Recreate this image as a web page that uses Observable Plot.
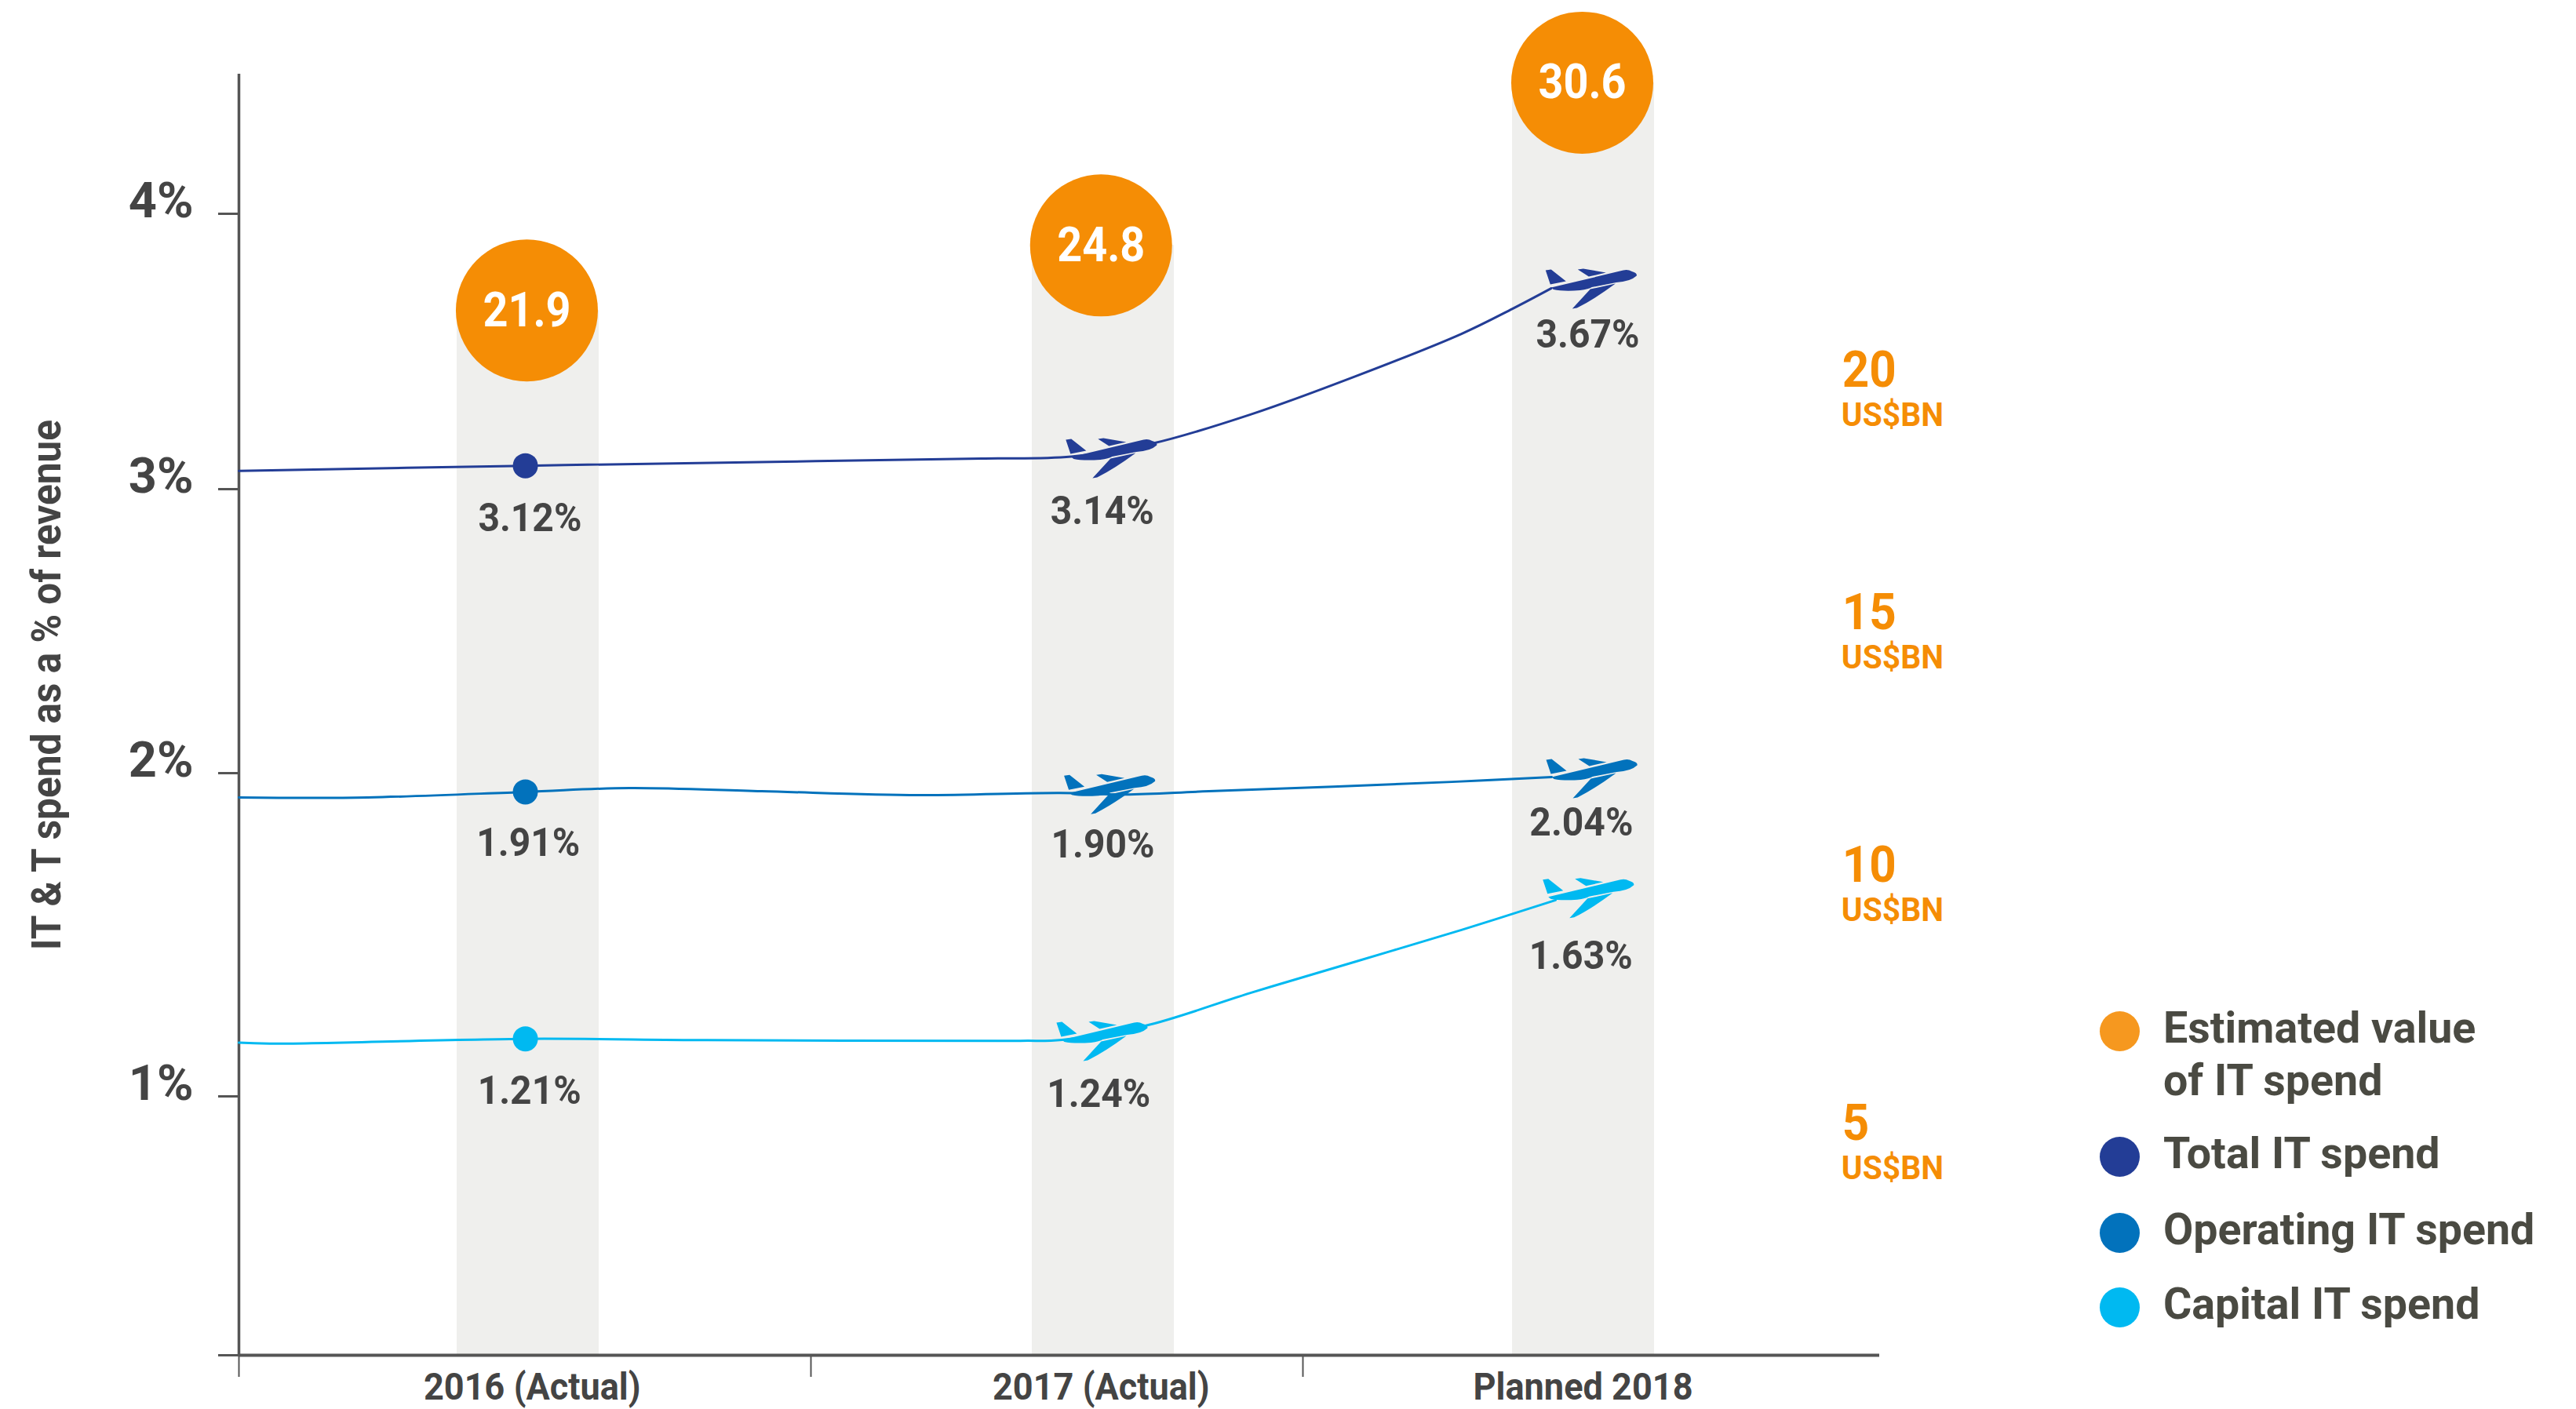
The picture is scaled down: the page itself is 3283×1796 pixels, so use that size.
<!DOCTYPE html>
<html>
<head>
<meta charset="utf-8">
<script src="https://cdn.jsdelivr.net/npm/d3@7"></script>
<script src="https://cdn.jsdelivr.net/npm/@observablehq/plot@0.6"></script>
<style>
  html, body { margin: 0; padding: 0; background: #fff; }
  #chart { position: relative; width: 3283px; height: 1796px; overflow: hidden; }
  #chart svg { display: block; }
  #legend { position: absolute; left: 2676px; top: 0; font: 700 55px/67px Roboto, sans-serif; color: #4a4a42; }
  #legend .row { position: absolute; left: 0; white-space: nowrap; }
  #legend .row:nth-child(1) { top: 1277px; }
  #legend .row:nth-child(2) { top: 1437px; }
  #legend .row:nth-child(3) { top: 1534px; }
  #legend .row:nth-child(4) { top: 1629px; }
  #legend .swatch { position: absolute; left: 0; width: 51px; height: 51px; border-radius: 50%; top: 12px; }
  #legend .label { position: absolute; left: 81px; top: 0; transform: scaleX(1.01); transform-origin: left top; }
</style>
</head>
<body>
<div id="chart"></div>
<script>
// ---- data ----
const years = [2016, 2017, 2018];
const categories = ["2016 (Actual)", "2017 (Actual)", "Planned 2018"];
const categoryYears = [2016.008, 2016.997, 2018];
const spendValues = ["21.9", "24.8", "30.6"];
const bubbleYears = [2015.9986, 2016.997, 2017.9986];
const bubbleLevels = [3.649, 3.885, 4.476];

const totalYears = [2015.5, 2015.996, 2016.454, 2016.792, 2016.946, 2017.122, 2017.369, 2017.594, 2017.783, 2017.874, 2017.943];
const totalLine = [3.066, 3.085, 3.1, 3.111, 3.118, 3.165, 3.271, 3.41, 3.564, 3.655, 3.729];
const operatingYears = [2015.5, 2015.723, 2015.996, 2016.18, 2016.413, 2016.685, 2016.926, 2017.055, 2017.265, 2017.766, 2017.944];
const operatingLine = [1.925, 1.925, 1.942, 1.954, 1.944, 1.932, 1.939, 1.934, 1.944, 1.973, 1.988];
const capitalYears = [2015.5, 2015.553, 2015.996, 2016.316, 2016.859, 2016.93, 2017.108, 2017.369, 2017.594, 2017.783, 2017.951];
const capitalLine = [1.166, 1.163, 1.178, 1.174, 1.172, 1.175, 1.219, 1.32, 1.417, 1.515, 1.607];

const seriesColors = { total: "#233d96", operating: "#0272bc", capital: "#00b9f1" };

const startPoints = [
  { year: 2015.996, level: 3.085, series: "total" },
  { year: 2015.996, level: 1.942, series: "operating" },
  { year: 2015.996, level: 1.178, series: "capital" }
];
const planePoints = [
  { year: 2016.946, level: 3.117, series: "total" },
  { year: 2017.943, level: 3.732, series: "total" },
  { year: 2016.943, level: 1.939, series: "operating" },
  { year: 2017.944, level: 1.988, series: "operating" },
  { year: 2016.93, level: 1.175, series: "capital" },
  { year: 2017.938, level: 1.617, series: "capital" }
];

const valueLabels = ["3.12%", "3.14%", "3.67%", "1.91%", "1.90%", "2.04%", "1.21%", "1.24%", "1.63%"];
const valueLabelYears = [2016.004, 2016.999, 2018.008, 2016.001, 2017, 2017.997, 2016.003, 2016.993, 2017.996];
const valueLabelLevels = [2.851, 2.876, 3.513, 1.743, 1.74, 1.806, 0.97, 0.958, 1.395];

const usdLabels = ["20", "15", "10", "5"];
const usdLevels = [3.373, 2.506, 1.665, 0.833];

const legendLabels = ["Estimated value<br>of IT spend", "Total IT spend", "Operating IT spend", "Capital IT spend"];
const legendColors = ["#f6981f", "#233d96", "#0272bc", "#00b9f1"];

const yTicks = [0, 1, 2, 3, 4];
const xTicks = [2015.5, 2016.5, 2017.5];
const yTitle = "IT & T spend as a % of revenue";

// ---- helpers ----
const zip = (xs, ys) => xs.map((x, i) => ({ x, y: ys[i] }));
const plane = {
  draw(c, size) {
    const s = Math.sqrt(size / Math.PI);
    const m = (x, y) => c.moveTo(x * s, y * s);
    const l = (x, y) => c.lineTo(x * s, y * s);
    const q = (a, b, x, y) => c.quadraticCurveTo(a * s, b * s, x * s, y * s);
    // fuselage
    m(0, 0); l(92, -22); q(98, -23.5, 103, -20.5); q(110, -18.5, 109, -15); q(101, -7.5, 83, -6.5);
    l(52, -0.5); q(48, 2, 37, 3.5); q(15, 5, 3, 2.5); c.closePath();
    // tail fin
    m(-1, -4); l(-7, -22); l(0, -23); l(19, -8); c.closePath();
    // far wing
    m(48, -14); l(34, -23); l(41, -24); l(70, -19); c.closePath();
    // near wing
    m(50, 2); l(82, -5); q(55, 15, 33, 26); l(27, 27); c.closePath();
  }
};
const ink = "#444444";
const axisInk = "#555555";
const orange = "#f58d05";

const lineMark = (xs, ys, color) => Plot.line(zip(xs, ys), {
  x: "x", y: "y", stroke: color, strokeWidth: 3, curve: "catmull-rom"
});

const plot = Plot.plot({
  width: 3283,
  height: 1796,
  marginLeft: 304,
  marginRight: 888,
  marginTop: 94,
  marginBottom: 69,
  style: { fontFamily: "Roboto, sans-serif", fontWeight: 700, background: "#fff", overflow: "visible" },
  x: {
    type: "linear",
    domain: [2015.5, 2016, 2016.5, 2017, 2017.5, 2018, 2018.5],
    range: [304, 672, 1033, 1405, 1660, 2017, 2395],
    label: null
  },
  y: {
    type: "linear",
    domain: [0, 1, 2, 3, 4, 4.507],
    range: [1727, 1397, 985, 623, 272, 94],
    label: null
  },
  marks: [
    // grey columns rising to the bubbles
    Plot.ruleX(years, { x: d => d, y1: 0, y2: (d, i) => bubbleLevels[i], stroke: "#efefed", strokeWidth: 181 }),
    // axes
    Plot.axisX({ ticks: xTicks, tickSize: 28, stroke: axisInk, strokeWidth: 2, tickFormat: () => "" }),
    Plot.axisX({ ticks: categoryYears, tickSize: 0, tickPadding: 22, fontSize: 49, fill: ink,
      tickFormat: d => categories[categoryYears.indexOf(d)] }),
    Plot.axisY({ ticks: yTicks, tickSize: 26, stroke: axisInk, strokeWidth: 3, tickFormat: () => "" }),
    Plot.axisY({ ticks: yTicks, tickSize: 0, tickPadding: 58, dy: -16, fontSize: 63, fill: ink,
      tickFormat: d => d ? d + "%" : "" }),
    Plot.ruleY([0], { stroke: axisInk, strokeWidth: 4 }),
    Plot.ruleX([2015.5], { y1: 0, y2: 4.507, stroke: axisInk, strokeWidth: 3.5 }),
    Plot.text([yTitle], { frameAnchor: "left", rotate: -90, lineAnchor: "bottom", textAnchor: "middle",
      dx: -228, dy: -38, fontSize: 51, fill: ink }),
    // series
    lineMark(totalYears, totalLine, seriesColors.total),
    lineMark(operatingYears, operatingLine, seriesColors.operating),
    lineMark(capitalYears, capitalLine, seriesColors.capital),
    Plot.dot(startPoints, { x: "year", y: "level", r: 16, fill: d => seriesColors[d.series], stroke: "none" }),
    Plot.dot(planePoints, { x: "year", y: "level", r: 1, symbol: plane, fill: d => seriesColors[d.series], stroke: "none" }),
    // value labels
    Plot.text(valueLabels, { x: (d, i) => valueLabelYears[i], y: (d, i) => valueLabelLevels[i],
      text: d => d, lineAnchor: "bottom", fontSize: 50, fill: ink }),
    // bubbles
    Plot.dot(bubbleYears, { x: d => d, y: (d, i) => bubbleLevels[i], r: 90.5, fill: orange, stroke: "none" }),
    Plot.text(spendValues, { x: (d, i) => bubbleYears[i], y: (d, i) => bubbleLevels[i], text: d => d,
      fontSize: 62, fill: "#fff" }),
    // right-hand US$BN scale
    Plot.text(usdLabels, { x: () => 2018.437, y: (d, i) => usdLevels[i], text: d => d,
      textAnchor: "start", lineAnchor: "bottom", fontSize: 64, fill: orange }),
    Plot.text(usdLabels, { x: () => 2018.437, y: (d, i) => usdLevels[i], text: () => "US$BN",
      textAnchor: "start", lineAnchor: "bottom", dy: 50, dx: -1, fontSize: 42, fill: orange })
  ]
});

const chart = document.getElementById("chart");
chart.appendChild(plot);

// DIN-like narrower lettering: squeeze the Roboto glyphs per text size
const squeeze = { 63: 1.0, 64: 0.94, 62: 0.9, 51: 0.97, 50: 0.96, 49: 0.92, 42: 0.97 };
plot.querySelectorAll("text").forEach(t => {
  const fs = Math.round(parseFloat(getComputedStyle(t).fontSize));
  const k = squeeze[fs];
  const len = t.getComputedTextLength();
  if (k && len > 0) {
    t.setAttribute("textLength", (len * k).toFixed(1));
    t.setAttribute("lengthAdjust", "spacingAndGlyphs");
  }
});

// legend
const legend = d3.select(chart).append("div").attr("id", "legend");
legendLabels.forEach((label, i) => {
  const row = legend.append("div").attr("class", "row");
  row.append("div").attr("class", "swatch").style("background", legendColors[i]);
  row.append("div").attr("class", "label").html(label);
});
</script>
</body>
</html>
